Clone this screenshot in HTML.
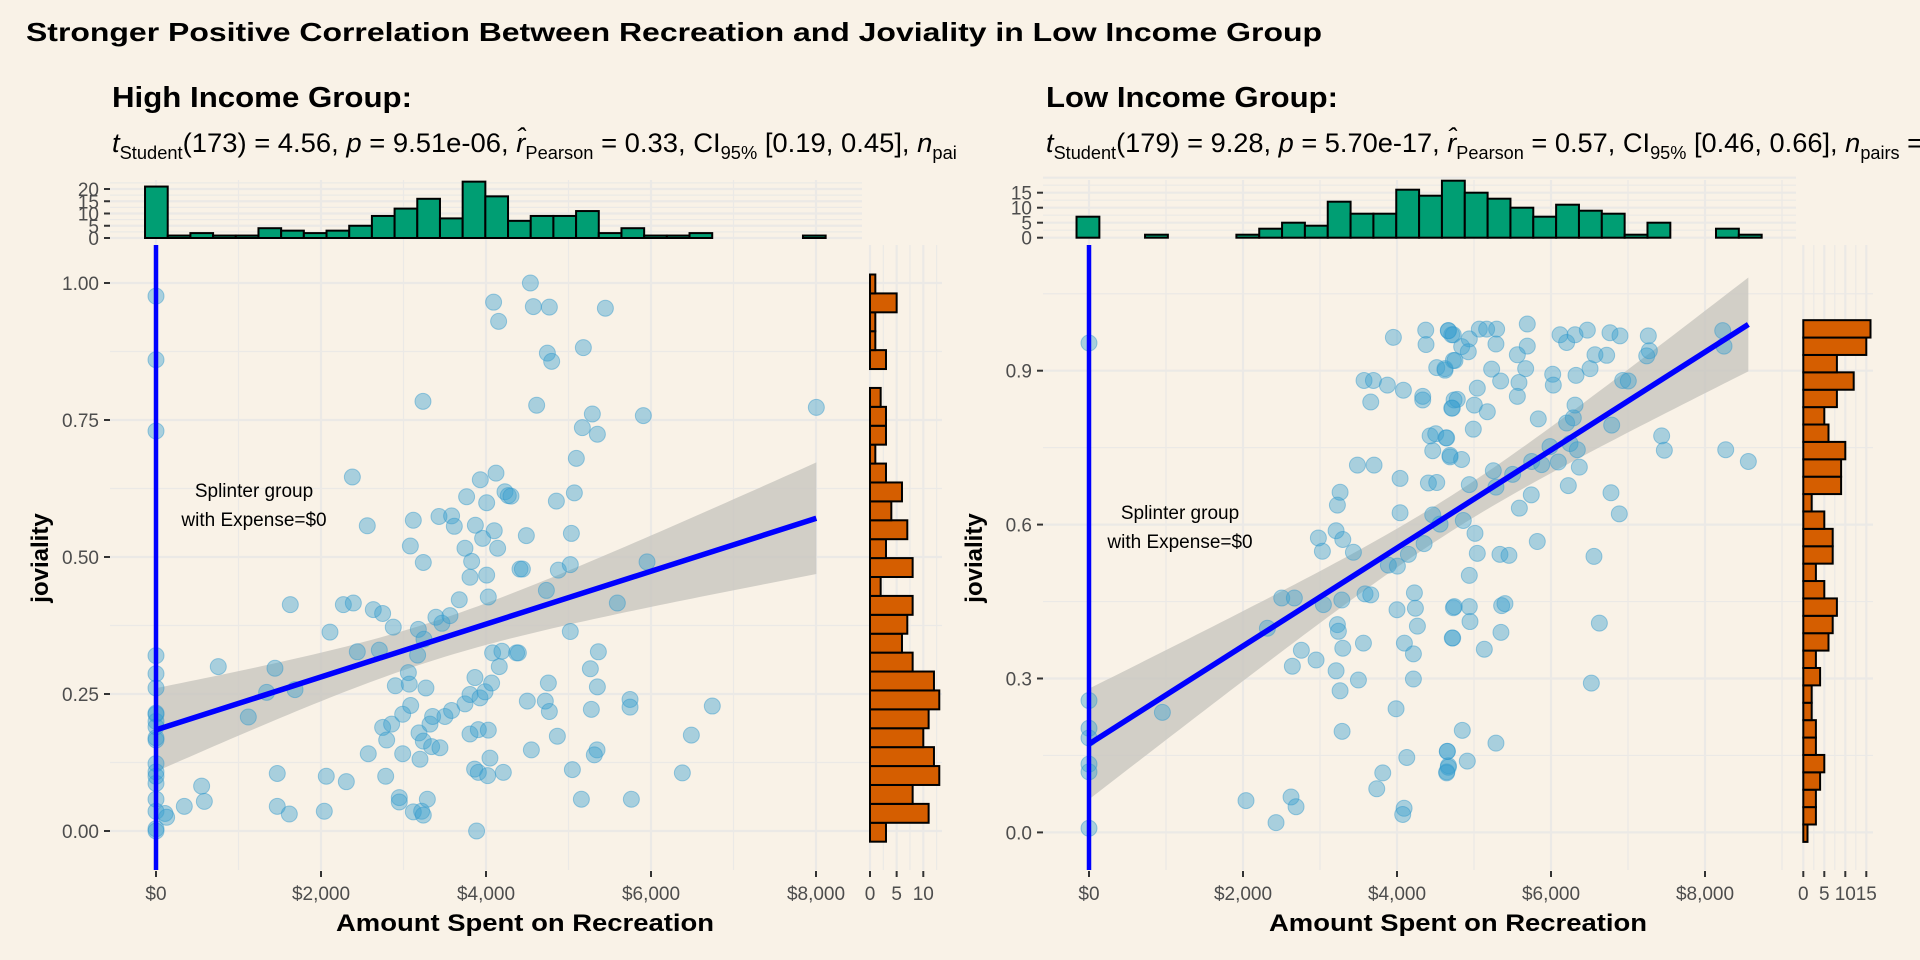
<!DOCTYPE html>
<html><head><meta charset="utf-8">
<style>
html,body{margin:0;padding:0;background:#f9f2e7;}
svg{display:block;font-family:"Liberation Sans",Arial,sans-serif;}
</style></head>
<body>
<svg id="chart" width="1920" height="960" viewBox="0 0 1920 960" xmlns="http://www.w3.org/2000/svg">
<defs><clipPath id="leftClip"><rect x="0" y="0" width="956" height="960"/></clipPath></defs>
<rect x="0" y="0" width="1920" height="960" fill="#f9f2e7"/>
<text x="26" y="41" font-size="26" font-weight="bold" fill="#000" textLength="1296" lengthAdjust="spacingAndGlyphs">Stronger Positive Correlation Between Recreation and Joviality in Low Income Group</text>
<text x="112" y="107" font-size="29" font-weight="bold" fill="#000" textLength="300" lengthAdjust="spacingAndGlyphs">High Income Group:</text>
<text x="1046" y="107" font-size="29" font-weight="bold" fill="#000" textLength="292" lengthAdjust="spacingAndGlyphs">Low Income Group:</text>
<g clip-path="url(#leftClip)">
<text x="112" y="152" font-size="27" fill="#000" textLength="937" lengthAdjust="spacingAndGlyphs"><tspan font-style="italic">t</tspan><tspan font-size="18" dy="7">Student</tspan><tspan dy="-7">(173) = 4.56, </tspan><tspan font-style="italic">p</tspan><tspan> = 9.51e-06, </tspan><tspan font-style="italic">r̂</tspan><tspan font-size="18" dy="7">Pearson</tspan><tspan dy="-7"> = 0.33, CI</tspan><tspan font-size="18" dy="7">95%</tspan><tspan dy="-7"> [0.19, 0.45], </tspan><tspan font-style="italic">n</tspan><tspan font-size="18" dy="7">pairs</tspan><tspan dy="-7"> = 175</tspan></text>
</g>
<text x="1046" y="152" font-size="27" fill="#000" textLength="930" lengthAdjust="spacingAndGlyphs"><tspan font-style="italic">t</tspan><tspan font-size="18" dy="7">Student</tspan><tspan dy="-7">(179) = 9.28, </tspan><tspan font-style="italic">p</tspan><tspan> = 5.70e-17, </tspan><tspan font-style="italic">r̂</tspan><tspan font-size="18" dy="7">Pearson</tspan><tspan dy="-7"> = 0.57, CI</tspan><tspan font-size="18" dy="7">95%</tspan><tspan dy="-7"> [0.46, 0.66], </tspan><tspan font-style="italic">n</tspan><tspan font-size="18" dy="7">pairs</tspan><tspan dy="-7"> = 181</tspan></text>
<g id="leftPanel"></g>
<g id="rightPanel"></g>
</svg>
<script>
// ---------- DATA: High income group ----------
const highSpend = [0,0,0,0,0,0,0,0,0,0,0,0,0,0,0,0,0,0,0,0,109,129,343,553,586,755,1119,1341,1442,1470,1470,1616,1628,1685,2040,2064,2109,2307,2271,2392,2380,2440,2561,2573,2634,2747,2707,2747,2796,2856,2784,2876,2901,2949,2949,2990,2990,3059,3070,3087,3083,3119,3119,3171,3180,3200,3220,3240,3236,3240,3248,3272,3289,3188,3240,3321,3353,3341,3442,3393,3430,3466,3502,3563,3583,3583,3616,3676,3745,3765,3745,3806,3806,3826,3806,3871,3866,3862,3907,3907,3927,3931,3959,3988,4008,4008,4020,4028,4028,4048,4068,4080,4092,4100,4121,4141,4161,4153,4193,4210,4230,4270,4371,4412,3886,4538,4574,4768,5447,4744,4796,5180,4614,5289,5168,5350,5907,8004,5095,4303,4853,5071,4489,5035,4441,4877,5022,5952,4732,5592,5022,4392,5362,5265,4756,5350,4501,4719,4768,5277,5746,5746,6743,4865,6489,4550,5346,5313,6380,5047,5156,5762];
const highJov = [0.976,0.86,0.73,0.32,0.287,0.261,0.213,0.20,0.19,0.166,0.123,0.108,0.087,0.058,0.036,0.004,0.0,0.17,0.10,0.215,0.032,0.025,0.045,0.082,0.054,0.30,0.208,0.253,0.297,0.105,0.045,0.031,0.413,0.258,0.036,0.10,0.363,0.09,0.413,0.416,0.646,0.327,0.557,0.141,0.404,0.397,0.33,0.189,0.166,0.195,0.10,0.372,0.265,0.061,0.053,0.141,0.213,0.289,0.268,0.229,0.52,0.567,0.035,0.321,0.368,0.131,0.036,0.029,0.784,0.49,0.35,0.261,0.058,0.179,0.164,0.195,0.209,0.154,0.152,0.39,0.574,0.379,0.209,0.393,0.22,0.575,0.556,0.422,0.516,0.61,0.232,0.249,0.177,0.492,0.463,0.558,0.28,0.113,0.107,0.185,0.243,0.641,0.534,0.254,0.599,0.467,0.101,0.184,0.427,0.133,0.27,0.325,0.965,0.548,0.653,0.516,0.30,0.93,0.328,0.107,0.619,0.612,0.325,0.478,0.0,1.0,0.957,0.956,0.954,0.872,0.857,0.882,0.777,0.761,0.736,0.724,0.758,0.773,0.68,0.611,0.602,0.617,0.539,0.543,0.478,0.476,0.486,0.491,0.439,0.416,0.364,0.325,0.327,0.296,0.27,0.263,0.237,0.237,0.218,0.222,0.24,0.226,0.228,0.173,0.175,0.148,0.148,0.139,0.106,0.112,0.058,0.058,0.042];
const highSpendHist = [21,1,2,1,1,4,3,2,3,5,9,12,16,8,23,17,7,9,9,11,2,4,1,1,2,0,0,0,0,1];
const highJovHist = [3,11,8,13,12,10,11,13,12,8,6,7,8,2,8,3,7,4,6,3,1,3,3,2,0,3,1,1,5,1];
const highXTicks = [0,2000,4000,6000,8000];
const highXTickLabels = ["$0","$2,000","$4,000","$6,000","$8,000"];
const highYTicks = [0,0.25,0.5,0.75,1.0];
const highYTickLabels = ["0.00","0.25","0.50","0.75","1.00"];
const highTopTicks = [0,5,10,15,20];
const highSideTicks = [0,5,10];

// ---------- DATA: Low income group ----------
const lowSpend = [0,0,0,0,0,0,0,953,2039,2429,2624,2689,2317,2503,2667,2641,2758,2949,2979,3031,3044,3209,3261,3287,3226,3239,3296,3226,3261,3209,3296,3283,3434,3486,3702,3499,3564,3572,3694,3659,3875,3953,4083,4040,4040,3585,3659,3888,4005,4148,4000,4226,4239,4265,4096,4213,4213,3988,4127,3815,3737,4092,4074,4352,4464,4559,4408,4516,4464,4430,4503,4637,4689,4334,4334,4377,4373,4516,4624,4668,4711,4732,4711,4741,4732,4723,4654,4646,4668,4666,4731,4623,4753,4840,4939,4926,5069,5164,5294,5285,5692,5692,5563,5671,5229,5346,5584,5563,5043,4783,4718,5004,5173,4991,4645,5835,6117,6203,6312,6472,6766,6896,7264,7277,7243,6571,6723,6022,6030,6325,6507,6931,7004,8230,8247,6312,6203,6290,6788,7437,7472,8269,8563,4688,4839,5251,5502,5749,5879,5987,6095,6247,6342,6368,4939,5285,6225,5744,5589,6779,6887,4861,5013,5043,5337,5454,5822,6558,4939,4744,4939,4948,5359,5402,4718,5134,5350,6628,6524,4848,5285,4653,4913,4666,4645];
const lowJov = [0.954,0.257,0.203,0.184,0.133,0.118,0.008,0.234,0.062,0.019,0.069,0.05,0.398,0.457,0.457,0.324,0.355,0.336,0.574,0.548,0.444,0.315,0.276,0.197,0.405,0.392,0.359,0.638,0.663,0.588,0.571,0.453,0.546,0.716,0.716,0.297,0.369,0.881,0.881,0.839,0.872,0.965,0.862,0.69,0.623,0.465,0.463,0.521,0.519,0.542,0.434,0.467,0.437,0.402,0.369,0.348,0.299,0.241,0.146,0.116,0.085,0.047,0.035,0.563,0.619,0.601,0.681,0.682,0.744,0.773,0.777,0.769,0.732,0.85,0.843,0.951,0.979,0.906,0.901,0.978,0.97,0.92,0.827,0.843,0.438,0.379,0.158,0.118,0.13,0.978,0.97,0.904,0.92,0.947,0.962,0.937,0.981,0.981,0.981,0.952,0.991,0.948,0.931,0.904,0.903,0.88,0.877,0.85,0.866,0.844,0.827,0.833,0.82,0.786,0.769,0.806,0.97,0.955,0.97,0.979,0.974,0.968,0.968,0.939,0.929,0.931,0.93,0.893,0.872,0.891,0.904,0.881,0.88,0.978,0.948,0.833,0.798,0.808,0.794,0.773,0.745,0.746,0.723,0.735,0.727,0.705,0.698,0.723,0.717,0.752,0.722,0.758,0.746,0.712,0.678,0.673,0.676,0.658,0.632,0.662,0.621,0.608,0.583,0.544,0.542,0.54,0.567,0.538,0.501,0.44,0.44,0.411,0.442,0.446,0.379,0.357,0.39,0.408,0.291,0.199,0.174,0.158,0.139,0.127,0.116];
const lowSpendHist = [7,0,0,1,0,0,0,1,3,5,4,12,8,8,16,14,19,15,13,10,7,11,9,8,1,5,0,0,3,1];
const lowJovHist = [1,3,3,4,5,3,3,2,2,4,3,6,7,8,5,3,7,7,5,2,9,9,10,6,5,8,12,8,15,16];
const lowXTicks = [0,2000,4000,6000,8000];
const lowXTickLabels = ["$0","$2,000","$4,000","$6,000","$8,000"];
const lowYTicks = [0,0.3,0.6,0.9];
const lowYTickLabels = ["0.0","0.3","0.6","0.9"];
const lowTopTicks = [0,5,10,15];
const lowSideTicks = [0,5,10,15];

// ---------- Layout (not data) ----------
const NS = "http://www.w3.org/2000/svg";
function el(tag, attrs, parent) {
  const e = document.createElementNS(NS, tag);
  for (const k in attrs) e.setAttribute(k, attrs[k]);
  if (parent) parent.appendChild(e);
  return e;
}
const TICK = "#333333", LAB = "#4d4d4d", GRID = "#ebe9e6";

function drawPanel(g, cfg) {
  const xs = v => cfg.x0 + v * cfg.pxd;
  const ys = v => cfg.y0 - v * cfg.pxu;
  const P = cfg.panel;
  const xMinor = [], xMajor = cfg.xTicks;
  for (let v = 1000; v <= 9000; v += 2000) if (xs(v) < P.r) xMinor.push(v);
  xMinor.forEach(v => {
    const l = el('line', {x1: xs(v), x2: xs(v), y1: 180, y2: P.b, stroke: GRID, 'stroke-width': 1.2}, g);
    
    
  });
  xMajor.forEach(v => {
    const l = el('line', {x1: xs(v), x2: xs(v), y1: 180, y2: P.b, stroke: GRID, 'stroke-width': 2.2}, g);
    
    
  });
  const yMinor = [];
  for (let i = 0; i < cfg.yTicks.length; i++) yMinor.push(cfg.yTicks[i] + cfg.yStep / 2);
  yMinor.forEach(v => {
    if (ys(v) < P.t) return;
    const l = el('line', {x1: P.l, x2: cfg.side.gridR, y1: ys(v), y2: ys(v), stroke: GRID, 'stroke-width': 1.2}, g);
    
    
  });
  cfg.yTicks.forEach(v => {
    const l = el('line', {x1: P.l, x2: cfg.side.gridR, y1: ys(v), y2: ys(v), stroke: GRID, 'stroke-width': 2.2}, g);
    
    
  });
  const T = cfg.top;
  for (let c = 0; c <= T.gridMax; c += 2.5) {
    const yy = T.base - c * T.pxc;
    const l = el('line', {x1: P.l, x2: P.r, y1: yy, y2: yy, stroke: GRID, 'stroke-width': (c % 5 === 0) ? 2.2 : 1.2}, g);
    
    
  }
  const S = cfg.side;
  for (let c = 0; S.x0 + c * S.pxc <= S.gridR; c += 2.5) {
    const xx = S.x0 + c * S.pxc;
    const l = el('line', {x1: xx, x2: xx, y1: P.t, y2: P.b, stroke: GRID, 'stroke-width': (c % 5 === 0) ? 2.2 : 1.2}, g);
    
    
  }

  const X = cfg.xData, Y = cfg.yData, n = X.length;
  let mx = 0, my = 0;
  for (let i = 0; i < n; i++) { mx += X[i]; my += Y[i]; }
  mx /= n; my /= n;
  let sxx = 0, sxy = 0;
  for (let i = 0; i < n; i++) { sxx += (X[i] - mx) ** 2; sxy += (X[i] - mx) * (Y[i] - my); }
  const b = sxy / sxx, a = my - b * mx;
  let sse = 0;
  for (let i = 0; i < n; i++) sse += (Y[i] - a - b * X[i]) ** 2;
  const s = Math.sqrt(sse / (n - 2));
  const xmin = Math.min(...X), xmax = Math.max(...X);
  const up = [], lo = [];
  for (let k = 0; k <= 80; k++) {
    const xv = xmin + (xmax - xmin) * k / 80;
    const yh = a + b * xv;
    const se = 1.97 * s * Math.sqrt(1 / n + (xv - mx) ** 2 / sxx);
    up.push(xs(xv) + ',' + ys(yh + se));
    lo.unshift(xs(xv) + ',' + ys(yh - se));
  }
  const band = el('polygon', {points: up.concat(lo).join(' '), fill: '#c8c5bf', 'fill-opacity': 0.8}, g);
  
  

  for (let i = 0; i < n; i++) {
    const c = el('circle', {cx: xs(X[i]), cy: ys(Y[i]), r: 8, fill: '#3a9fcf', 'fill-opacity': 0.42, stroke: '#2f97cc', 'stroke-opacity': 0.45, 'stroke-width': 1}, g);
    
    
  }
  const vl = el('line', {x1: xs(0), x2: xs(0), y1: P.t, y2: P.b, stroke: '#0000ff', 'stroke-width': 4.5}, g);
  
  
  const rl = el('line', {x1: xs(xmin), y1: ys(a + b * xmin), x2: xs(xmax), y2: ys(a + b * xmax), stroke: '#0000ff', 'stroke-width': 5.5}, g);
  
  

  T.counts.forEach((cnt, i) => {
    const x1 = xs(T.start + i * T.w), x2 = xs(T.start + (i + 1) * T.w);
    const r = el('rect', {x: x1, y: T.base - cnt * T.pxc, width: x2 - x1, height: cnt * T.pxc, fill: '#009e73', stroke: '#000', 'stroke-width': 2}, g);
    
    
  });
  S.counts.forEach((cnt, i) => {
    const y1 = ys(S.start + (i + 1) * S.w), y2 = ys(S.start + i * S.w);
    const r = el('rect', {x: S.x0, y: y1, width: cnt * S.pxc, height: y2 - y1, fill: '#d55e00', stroke: '#000', 'stroke-width': 2}, g);
    
    
  });

  cfg.xTicks.forEach((v, i) => {
    const t = el('line', {x1: xs(v), x2: xs(v), y1: P.b + 1, y2: P.b + 7, stroke: TICK, 'stroke-width': 2}, g);
    
    
    const tx = el('text', {x: xs(v), y: 900, 'text-anchor': 'middle', 'font-size': 19, fill: LAB}, g);
    tx.textContent = cfg.xLabels[i];
    
    
  });
  cfg.yTicks.forEach((v, i) => {
    const t = el('line', {x1: P.l - 6, x2: P.l, y1: ys(v), y2: ys(v), stroke: TICK, 'stroke-width': 2}, g);
    
    
    const tx = el('text', {x: P.l - 11, y: ys(v) + 7, 'text-anchor': 'end', 'font-size': 19, fill: LAB}, g);
    tx.textContent = cfg.yLabels[i];
    
    
  });
  T.ticks.forEach(v => {
    const yy = T.base - v * T.pxc;
    const t = el('line', {x1: P.l - 6, x2: P.l, y1: yy, y2: yy, stroke: TICK, 'stroke-width': 2}, g);
    
    
    const tx = el('text', {x: P.l - 11, y: yy + 7, 'text-anchor': 'end', 'font-size': 19, fill: LAB}, g);
    tx.textContent = String(v);
    
    
  });
  S.ticks.forEach(v => {
    const xx = S.x0 + v * S.pxc;
    const t = el('line', {x1: xx, x2: xx, y1: P.b + 1, y2: P.b + 7, stroke: TICK, 'stroke-width': 2}, g);
    
    
    const tx = el('text', {x: xx, y: 900, 'text-anchor': 'middle', 'font-size': 19, fill: LAB}, g);
    tx.textContent = String(v);
    
    
  });

  const xt = el('text', {x: cfg.xTitleX, y: 931, 'text-anchor': 'middle', 'font-size': 24, 'font-weight': 'bold', fill: '#000', textLength: 378, lengthAdjust: 'spacingAndGlyphs'}, g);
  xt.textContent = 'Amount Spent on Recreation';
  
  
  const yt = el('text', {x: 0, y: 0, transform: 'translate(' + cfg.yTitleX + ',558) rotate(-90)', 'text-anchor': 'middle', 'font-size': 24, 'font-weight': 'bold', fill: '#000'}, g);
  yt.textContent = 'joviality';
  
  
  const a1 = el('text', {x: cfg.annX, y: cfg.annY, 'text-anchor': 'middle', 'font-size': 19, fill: '#000'}, g);
  a1.textContent = 'Splinter group';
  
  
  const a2 = el('text', {x: cfg.annX, y: cfg.annY + 29, 'text-anchor': 'middle', 'font-size': 19, fill: '#000'}, g);
  a2.textContent = 'with Expense=$0';
  
  
}

drawPanel(document.getElementById('leftPanel'), {
  x0: 156, pxd: 0.0825, y0: 831, pxu: 548, yStep: 0.25,
  panel: {l: 110, r: 862, t: 245, b: 870},
  xData: highSpend, yData: highJov,
  xTicks: highXTicks, xLabels: highXTickLabels, yTicks: highYTicks, yLabels: highYTickLabels,
  top: {counts: highSpendHist, start: -133, w: 275, base: 238, pxc: 2.45, gridMax: 22.5, ticks: highTopTicks},
  side: {counts: highJovHist, start: -0.0195, w: 0.0345, x0: 870, pxc: 5.33, gridR: 942, ticks: highSideTicks},
  xTitleX: 525, yTitleX: 48, annX: 254, annY: 497
});
drawPanel(document.getElementById('rightPanel'), {
  x0: 1089, pxd: 0.077, y0: 832.4, pxu: 513, yStep: 0.3,
  panel: {l: 1043, r: 1796, t: 245, b: 870},
  xData: lowSpend, yData: lowJov,
  xTicks: lowXTicks, xLabels: lowXTickLabels, yTicks: lowYTicks, yLabels: lowYTickLabels,
  top: {counts: lowSpendHist, start: -162, w: 296.6, base: 237.7, pxc: 3, gridMax: 20, ticks: lowTopTicks},
  side: {counts: lowJovHist, start: -0.0185, w: 0.0339, x0: 1803.3, pxc: 4.2, gridR: 1873, ticks: lowSideTicks},
  xTitleX: 1458, yTitleX: 982, annX: 1180, annY: 519
});
</script>
</body></html>
